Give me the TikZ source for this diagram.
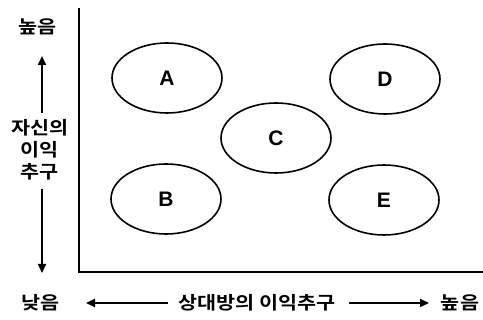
\documentclass[tikz,border=0pt]{standalone}
\usepackage{fontspec}
\setmainfont{Liberation Sans}
\newfontfamily\kr{Noto Sans CJK KR}[BoldFont={Noto Sans CJK KR Bold},FakeStretch=1.15]
\usetikzlibrary{shapes.geometric,arrows.meta}
\begin{document}
\begin{tikzpicture}[x=1pt,y=-1pt,
  lbl/.style={font=\kr\bfseries\fontsize{18}{18}\selectfont, inner sep=0pt},
  oval/.style={draw, line width=1.6pt, ellipse, minimum width=110pt, minimum height=70pt, inner sep=0pt, font=\bfseries\fontsize{21}{21}\selectfont},
  axis/.style={line width=1.8pt},
  arr/.style={line width=1.8pt, -{Triangle[length=9pt,width=8pt]}}]
\useasboundingbox (0,0) rectangle (483,320);
% axes
\coordinate (top) at (79,8);
\coordinate (origin) at (79,272);
\coordinate (right) at (483,272);
\draw[axis] (top) -- (origin) -- (right);
% ovals
\node[oval] (A) at (167,78) {A};
\node[oval] (B) at (166,199) {B};
\node[oval] (C) at (276,138) {C};
\node[oval] (D) at (385,79) {D};
\node[oval] (E) at (384,200) {E};
% left labels
\node[lbl] (hiL) at (38,27) {높음};
\node[lbl] (own1) at (40,128) {자신의};
\node[lbl] (own2) at (40,150) {이익};
\node[lbl] (own3) at (40,172) {추구};
\node[lbl] (loL) at (41,303) {낮음};
\coordinate (upS) at (42,113);
\coordinate (upE) at (42,56);
\coordinate (dnS) at (42,189);
\coordinate (dnE) at (42,273);
\draw[arr] (upS) -- (upE);
\draw[arr] (dnS) -- (dnE);
% bottom labels
\node[lbl] (other) at (257,303) {상대방의 이익추구};
\node[lbl] (hiB) at (460,303) {높음};
\coordinate (lfS) at (168,303);
\coordinate (lfE) at (86,303);
\coordinate (rtS) at (349,303);
\coordinate (rtE) at (429,303);
\draw[arr] (lfS) -- (lfE);
\draw[arr] (rtS) -- (rtE);
\end{tikzpicture}
\end{document}
